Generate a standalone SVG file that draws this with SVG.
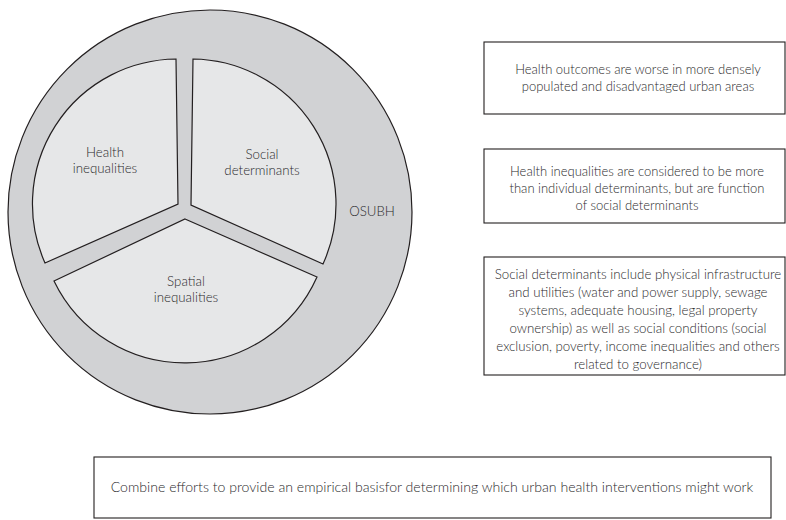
<svg xmlns="http://www.w3.org/2000/svg" width="786" height="520" viewBox="0 0 786 520">
<style>
  text { font-family: Lato, "Open Sans", "Liberation Sans", sans-serif; font-size: 13px; font-weight: 300; fill: #2b2a2c; text-anchor: middle; }
  .outer { fill: #d1d2d4; stroke: #231f20; stroke-width: 1.2; }
  .sector { fill: #e6e7e8; stroke: #231f20; stroke-width: 1.2; }
  .box { fill: #ffffff; stroke: #231f20; stroke-width: 1.1; }
  .lbl { font-size: 13.3px; }
  .wide { font-size: 14.1px; }
  .b3 { font-size: 13.3px; }
</style>
<rect width="786" height="520" fill="#ffffff"/>
<g id="osubh">
  <circle class="outer" cx="210" cy="212" r="202"/>
  <text class="lbl" x="372" y="216">OSUBH</text>
</g>
<g id="health-inequalities">
  <path class="sector" d="M178,204 L176,59 A145,145 0 0 0 45,263 Z"/>
  <text class="lbl" x="105" y="157">Health</text>
  <text class="lbl" x="105" y="173">inequalities</text>
</g>
<g id="social-determinants">
  <path class="sector" d="M191,205 L193,59 A145,145 0 0 1 323,264 Z"/>
  <text class="lbl" x="262" y="159">Social</text>
  <text class="lbl" x="262" y="175">determinants</text>
</g>
<g id="spatial-inequalities">
  <path class="sector" d="M185,219 L317,277 A145,145 0 0 1 54,281 Z"/>
  <text class="lbl" x="186" y="286">Spatial</text>
  <text class="lbl" x="186" y="302">inequalities</text>
</g>
<g id="box1">
  <rect class="box" x="484" y="42" width="301" height="72"/>
  <text x="638" y="74">Health outcomes are worse in more densely</text>
  <text x="638" y="91">populated and disadvantaged urban areas</text>
</g>
<g id="box2">
  <rect class="box" x="484" y="149" width="301" height="74"/>
  <text x="637" y="176">Health inequalities are considered to be more</text>
  <text x="637" y="193">than individual determinants, but are function</text>
  <text x="637" y="210">of social determinants</text>
</g>
<g id="box3">
  <rect class="box" x="484" y="257" width="301" height="118"/>
  <text class="b3" x="638" y="279">Social determinants include physical infrastructure</text>
  <text class="b3" x="638" y="297">and utilities (water and power supply, sewage</text>
  <text class="b3" x="638" y="315">systems, adequate housing, legal property</text>
  <text class="b3" x="638" y="333">ownership) as well as social conditions (social</text>
  <text class="b3" x="638" y="351">exclusion, poverty, income inequalities and others</text>
  <text class="b3" x="638" y="369">related to governance)</text>
</g>
<g id="box4">
  <rect class="box" x="94" y="457" width="677" height="61"/>
  <text class="wide" x="432" y="492">Combine efforts to provide an empirical basisfor determining which urban health interventions might work</text>
</g>
<g id="connectors"></g>
</svg>
